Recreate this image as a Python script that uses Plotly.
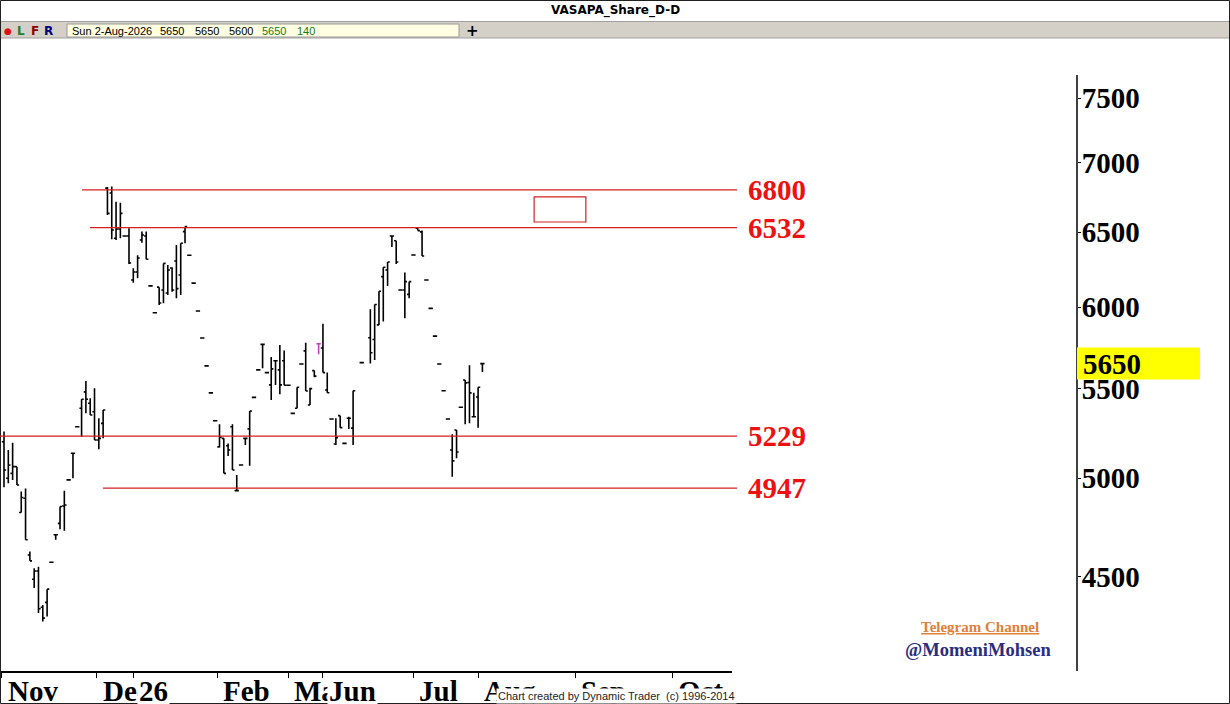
import math
import plotly.graph_objects as go

# ---------------- data ----------------
bar_index = list(range(0, 82)) + [83] + list(range(85, 112))

opens = [5198, 5000, 5026, 5062, 4820, 4894, 4607, 4489, 4529, 4357,
         4380, 4571, 4707, 4765, 4854, 4991, 5135, 5282, 5387, 5482,
         5416, 5367, 5208, 5301, 6813, 6777, 6458, 6522, 6474, 6474,
         6177, 6230, 6446, 6474, 6138, 5965, 6130, 6111, 6092, 6256,
         6303, 6210, 6504, 6342, 6156, 5976, 5806, 5636, 5476, 5316,
         5170, 5217, 5176, 5282, 4934, 5071, 5217, 5270, 5450, 5612,
         5767, 5596, 5523, 5667, 5612, 5667, 5521, 5358, 5387, 5648,
         5727, 5406, 5608, 5771, 5745, 5493, 5326, 5186, 5345, 5189,
         5330, 5274, 5656, 5808, 5797, 5888, 6199, 6243, 6474, 6441,
         6111, 6111, 6083, 6344, 6528, 6502, 6177, 5993, 5818, 5648,
         5489, 5326, 5153, 5264, 5393, 5552, 5537, 5339, 5452, 5650]
highs = [5255, 5153, 5193, 5062, 4929, 4946, 4624, 4542, 4550, 4368,
         4442, 4571, 4707, 4851, 4933, 4991, 5135, 5282, 5439, 5546,
         5445, 5503, 5330, 5377, 6820, 6825, 6715, 6708, 6474, 6528,
         6254, 6342, 6504, 6504, 6138, 5965, 6130, 6287, 6276, 6261,
         6412, 6424, 6539, 6342, 6156, 5976, 5806, 5636, 5476, 5316,
         5296, 5217, 5189, 5296, 5017, 5071, 5217, 5371, 5450, 5612,
         5767, 5596, 5690, 5667, 5763, 5729, 5521, 5358, 5509, 5648,
         5777, 5507, 5608, 5771, 5895, 5596, 5326, 5330, 5345, 5189,
         5339, 5489, 5656, 5987, 6018, 6103, 6261, 6297, 6474, 6441,
         6111, 6226, 6166, 6344, 6528, 6511, 6177, 5993, 5818, 5648,
         5489, 5326, 5240, 5264, 5393, 5552, 5640, 5477, 5509, 5650]
lows = [4952, 4973, 4991, 4964, 4820, 4682, 4578, 4447, 4330, 4291,
        4314, 4571, 4682, 4735, 4728, 4991, 5000, 5282, 5226, 5358,
        5349, 5208, 5157, 5217, 6620, 6451, 6446, 6458, 6474, 6283,
        6159, 6188, 6428, 6315, 6138, 5965, 6014, 6025, 6079, 6100,
        6058, 6079, 6424, 6342, 6156, 5976, 5806, 5636, 5476, 5316,
        5166, 5026, 5120, 5044, 4934, 5071, 5180, 5067, 5450, 5612,
        5622, 5596, 5435, 5523, 5468, 5521, 5521, 5358, 5387, 5648,
        5487, 5406, 5568, 5706, 5596, 5477, 5326, 5180, 5277, 5189,
        5270, 5180, 5656, 5651, 5672, 5888, 5909, 6138, 6398, 6283,
        6111, 5930, 6058, 6344, 6511, 6337, 6177, 5993, 5818, 5648,
        5489, 5326, 5008, 5108, 5393, 5296, 5302, 5339, 5277, 5600]
closes = [5044, 5071, 5062, 4964, 4898, 4682, 4578, 4529, 4350, 4307,
          4442, 4571, 4707, 4851, 4859, 4991, 5135, 5282, 5439, 5439,
          5349, 5208, 5217, 5377, 6632, 6515, 6522, 6632, 6474, 6290,
          6230, 6323, 6481, 6315, 6138, 5965, 6027, 6287, 6243, 6111,
          6120, 6424, 6539, 6342, 6156, 5976, 5806, 5636, 5476, 5316,
          5224, 5026, 5153, 5044, 4934, 5071, 5217, 5371, 5450, 5612,
          5767, 5596, 5618, 5667, 5523, 5521, 5521, 5358, 5509, 5648,
          5487, 5501, 5575, 5771, 5596, 5477, 5326, 5221, 5277, 5189,
          5330, 5489, 5656, 5716, 6018, 6103, 6261, 6297, 6474, 6297,
          6111, 6166, 6166, 6344, 6511, 6337, 6177, 5993, 5818, 5648,
          5489, 5326, 5093, 5142, 5393, 5535, 5476, 5339, 5509, 5650]
highlight_bar = 73          # bar drawn in magenta

levels = [6800, 6532, 5229, 4947]

month_positions = [-0.5, 21.5, 30, 49.5, 66, 74, 95, 110, 132.5, 155]
month_labels = ["Nov", "Dec", "26", "Feb", "Mar", "Jun", "Jul", "Aug", "Sep", "Oct"]

price_ticks = [4500, 5000, 5500, 6000, 6500, 7000, 7500]

last_date = "Sun 2-Aug-2026"
last_volume = 140
zone_low, zone_high = 6571, 6749
zone_start, zone_end = 123, 135

# ---------------- geometry helpers (layout only) ----------------
W, H = 1230, 704
ML, MR, MT, MB = 0, 153, 38, 33
PW, PH = W - ML - MR, H - MT - MB


def px(xp):
    return (xp - ML) / PW


def py(yp):
    return (H - MB - yp) / PH


Y_RANGE = [3.609670, 3.902850]
X_RANGE = [-0.928, 168.91]

# ---------------- figure ----------------
main_idx = [i for i, b in enumerate(bar_index) if b != highlight_bar]
hl_idx = [i for i, b in enumerate(bar_index) if b == highlight_bar]


def pick(arr, ids):
    return [arr[i] for i in ids]


fig = go.Figure()
fig.add_trace(go.Ohlc(
    x=pick(bar_index, main_idx), open=pick(opens, main_idx), high=pick(highs, main_idx),
    low=pick(lows, main_idx), close=pick(closes, main_idx),
    increasing=dict(line=dict(color="black", width=1.6)),
    decreasing=dict(line=dict(color="black", width=1.6)),
    tickwidth=0.5, showlegend=False, hoverinfo="skip"))
fig.add_trace(go.Ohlc(
    x=pick(bar_index, hl_idx), open=pick(opens, hl_idx), high=pick(highs, hl_idx),
    low=pick(lows, hl_idx), close=pick(closes, hl_idx),
    increasing=dict(line=dict(color="#c040c0", width=1.6)),
    decreasing=dict(line=dict(color="#c040c0", width=1.6)),
    tickwidth=0.5, showlegend=False, hoverinfo="skip"))

shapes = []
annotations = []

# toolbar
shapes.append(dict(type="rect", xref="paper", yref="paper", x0=px(0), x1=px(W), y0=py(38), y1=py(21.5),
                   fillcolor="#d4d0c8", line=dict(color="#a0a0a0", width=1), layer="below"))
shapes.append(dict(type="rect", xref="paper", yref="paper", x0=px(67), x1=px(459), y0=py(37), y1=py(24),
                   fillcolor="#ffffe1", line=dict(color="#9a9a9a", width=1)))
# whole-window frame
shapes.append(dict(type="rect", xref="paper", yref="paper", x0=px(0.5), x1=px(1229.5), y0=py(703.5), y1=py(0.5),
                   line=dict(color="#202020", width=1)))
# right price axis line
shapes.append(dict(type="line", xref="paper", yref="paper", x0=1, x1=1, y0=py(671), y1=py(75),
                   line=dict(color="black", width=1.5)))

# level lines
level_starts = [82, 90, 0, 103]
for lv, xs in zip(levels, level_starts):
    shapes.append(dict(type="line", xref="paper", yref="y", x0=px(xs), x1=px(737), y0=lv, y1=lv,
                       line=dict(color="#d42020", width=1.2)))
    annotations.append(dict(xref="paper", yref="y", x=px(746), y=math.log10(lv), text=str(lv),
                            xanchor="left", yanchor="middle", showarrow=False,
                            font=dict(family="Liberation Serif", size=29, color="#ee1111", weight="bold")))

# red target box
shapes.append(dict(type="rect", xref="x", yref="y", x0=zone_start, x1=zone_end, y0=zone_low, y1=zone_high,
                   line=dict(color="#d42020", width=1.2)))

# last price yellow tag
last_close = closes[-1]
shapes.append(dict(type="rect", xref="paper", yref="y", x0=1.0, x1=px(1200),
                   y0=last_close / 10 ** (16 / 2159), y1=last_close * 10 ** (16 / 2159),
                   fillcolor="#ffff00", line=dict(width=0)))
annotations.append(dict(xref="paper", yref="y", x=px(1081), y=math.log10(last_close), text=str(last_close),
                        xanchor="left", yanchor="middle", showarrow=False,
                        font=dict(family="Liberation Serif", size=29, color="black", weight="bold")))

# month labels (cut off by window bottom, as in the original)
for pos, lab in zip(month_positions, month_labels):
    annotations.append(dict(xref="x", yref="paper", x=pos, y=py(673), text=lab, xanchor="left",
                            yanchor="top", showarrow=False, xshift=4,
                            bgcolor="white" if lab in ("26", "Jun") else None,
                            font=dict(family="Liberation Serif", size=29, color="black", weight="bold")))

# title + toolbar texts
annotations.append(dict(xref="paper", yref="paper", x=px(615), y=py(10.5), text="VASAPA_Share_D-D",
                        showarrow=False, xanchor="center", yanchor="middle",
                        font=dict(family="DejaVu Sans", size=12, color="black", weight="bold")))
for xt, t, c in [(8, "●", "#e01010"), (21, "L", "#2a7a2a"), (35, "F", "#8b0000"), (48, "R", "#000080")]:
    annotations.append(dict(xref="paper", yref="paper", x=px(xt), y=py(31), text=t, showarrow=False,
                            xanchor="center", yanchor="middle",
                            font=dict(family="DejaVu Sans", size=12 if t != "●" else 9, color=c, weight="bold")))
info = [(70, last_date, "black"), (158, str(opens[-1]), "black"), (193, str(highs[-1]), "black"),
        (227, str(lows[-1]), "black"), (260, str(closes[-1]), "#1a7a1a"), (295, str(last_volume), "#1a7a1a")]
for xt, t, c in info:
    annotations.append(dict(xref="paper", yref="paper", x=px(xt), y=py(31), text=t, showarrow=False,
                            xanchor="left", yanchor="middle",
                            font=dict(family="Liberation Sans", size=11, color=c)))
annotations.append(dict(xref="paper", yref="paper", x=px(472), y=py(31), text="+", showarrow=False,
                        xanchor="center", yanchor="middle",
                        font=dict(family="DejaVu Sans", size=15, color="black", weight="bold")))

# telegram texts
annotations.append(dict(xref="paper", yref="paper", x=px(980), y=py(627), text="<u>Telegram Channel</u>",
                        showarrow=False, xanchor="center", yanchor="middle",
                        font=dict(family="Liberation Serif", size=15, color="#e0803a", weight="bold")))
annotations.append(dict(xref="paper", yref="paper", x=px(978), y=py(650), text="@MomeniMohsen",
                        showarrow=False, xanchor="center", yanchor="middle",
                        font=dict(family="Liberation Serif", size=18.5, color="#2b2e80", weight="bold")))

# credits
annotations.append(dict(xref="paper", yref="paper", x=px(496), y=py(696), text="Chart created by Dynamic Trader&nbsp; (c) 1996-2014",
                        showarrow=False, xanchor="left", yanchor="middle", bgcolor="white", borderpad=1,
                        font=dict(family="Liberation Sans", size=11, color="#222222")))

fig.update_layout(
    width=W, height=H, template="none",
    margin=dict(l=ML, r=MR, t=MT, b=MB, pad=0),
    paper_bgcolor="white", plot_bgcolor="white",
    showlegend=False,
    xaxis=dict(domain=[0, px(732)], range=X_RANGE, showgrid=False, zeroline=False,
               showline=True, linecolor="black", linewidth=1.5,
               tickmode="array", tickvals=month_positions, ticktext=month_labels,
               ticks="outside", ticklen=5, tickcolor="black", showticklabels=False,
               rangeslider=dict(visible=False), fixedrange=True, automargin=False),
    yaxis=dict(type="log", range=Y_RANGE, side="right", anchor="free", position=1.0,
               showgrid=False, zeroline=False, showline=False,
               tickmode="array", tickvals=price_ticks, ticktext=[str(v) for v in price_ticks],
               ticks="outside", ticklen=3, tickcolor="black", ticklabelstandoff=-5,
               tickfont=dict(family="Liberation Serif", size=29, color="black", weight="bold"),
               automargin=False, fixedrange=True),
    shapes=shapes, annotations=annotations,
)

fig.write_html("out.html", config={"displayModeBar": False},
               post_script="document.body.style.margin='0';document.body.style.overflow='hidden';")
